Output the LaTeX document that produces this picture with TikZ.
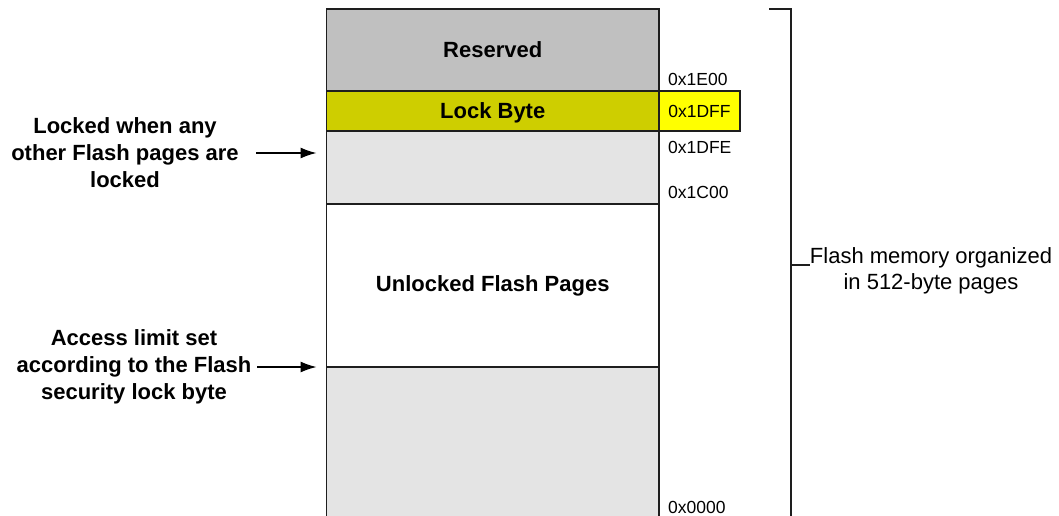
\documentclass[tikz,border=0pt]{standalone}
\usepackage{fontspec}
\setmainfont{Liberation Sans}
\usetikzlibrary{arrows.meta}
\definecolor{resgray}{RGB}{192,192,192}
\definecolor{lockcol}{RGB}{206,206,0}
\definecolor{lightgray}{RGB}{228,228,228}
\definecolor{yel}{RGB}{255,255,0}
\definecolor{edge}{RGB}{30,30,30}
\tikzset{
  region/.style={draw=edge, line width=1.4pt, anchor=north west, minimum width=332.5pt, inner sep=0pt, outer sep=0pt, font=\fontsize{22}{26}\selectfont\bfseries},
  hexlbl/.style={anchor=base west, inner sep=0pt, font=\fontsize{17.5}{20}\selectfont},
  sidelbl/.style={align=center, inner sep=0pt, font=\fontsize{22}{27}\selectfont\bfseries},
  arr/.style={-{Latex[length=16pt,width=11pt]}, line width=1.3pt},
  brk/.style={line width=1.4pt, draw=edge}
}
\begin{document}
\begin{tikzpicture}[x=1pt,y=-1pt]
\useasboundingbox[fill=white] (0,0) rectangle (1059,516);
% memory regions
\node[region, fill=resgray, minimum height=82pt] (res) at (326.5,9) {Reserved};
\node[region, fill=lockcol, minimum height=40pt, text depth=1pt] (lock) at (326.5,91) {Lock Byte};
\node[region, fill=lightgray, minimum height=73pt] (gray1) at (326.5,131) {};
\node[region, fill=white, minimum height=163pt] (unl) at (326.5,204) {Unlocked Flash Pages};
\node[region, fill=lightgray, minimum height=160pt] (gray2) at (326.5,367) {};
% yellow address box
\node[draw=edge, line width=1.4pt, fill=yel, anchor=north west, minimum width=81pt, minimum height=40pt, inner sep=0pt, outer sep=0pt, font=\fontsize{17.5}{20}\selectfont] (lockaddr) at (659,91) {0x1DFF};
% addresses
\node[hexlbl] (a1) at (668,86) {0x1E00};
\node[hexlbl] (a2) at (668,153) {0x1DFE};
\node[hexlbl] (a3) at (668,198) {0x1C00};
\node[hexlbl] (a4) at (668,513) {0x0000};
% side labels
\node[sidelbl] (l1) at (125,153) {Locked when any\\other Flash pages are\\locked};
\node[sidelbl] (l2) at (134,367) {Access limit set\\according to the Flash\\security lock byte};
\draw[arr, shorten >=10pt] (256,153) coordinate (s1) -- (s1 -| gray1.west);
\draw[arr, shorten >=10pt] (257,367) coordinate (s2) -- (s2 -| gray2.west);
% bracket
\coordinate (bt) at (769,9);
\coordinate (bc) at (791,9);
\coordinate (bb) at (791,520);
\coordinate (bm) at (791,265);
\draw[brk] (bt) -- (bc) -- (bb);
\node[align=center, inner sep=0pt, font=\fontsize{22}{26}\selectfont, anchor=base] (fl) at (931,289) {Flash memory organized\\in 512-byte pages};
\draw[brk] (bm) -- (bm -| fl.west);
\end{tikzpicture}
\end{document}
